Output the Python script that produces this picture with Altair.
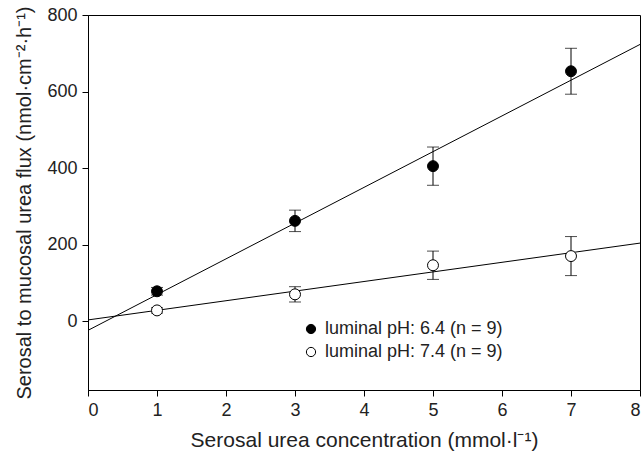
import altair as alt
import pandas as pd

# Data
conc = [1, 3, 5, 7]
flux_ph64 = [78, 262, 405, 653]
err_ph64 = [10, 28, 50, 60]
flux_ph74 = [28, 70, 146, 170]
err_ph74 = [7, 20, 37, 51]
series_names = ["luminal pH: 6.4 (n = 9)", "luminal pH: 7.4 (n = 9)"]

x_ticks = [0, 1, 2, 3, 4, 5, 6, 7, 8]
y_ticks = [0, 200, 400, 600, 800]

rows = []
for name, ys, es in [(series_names[0], flux_ph64, err_ph64), (series_names[1], flux_ph74, err_ph74)]:
    for x, y, e in zip(conc, ys, es):
        rows.append({"series": name, "x": x, "y": y, "lo": y - e, "hi": y + e})
df = pd.DataFrame(rows)

FONT = "Liberation Sans"
xscale = alt.Scale(domain=[0, 8], nice=False, zero=False)
yscale = alt.Scale(domain=[-180, 800], nice=False, zero=False)

xaxis = alt.Axis(values=x_ticks, title="Serosal urea concentration (mmol·l⁻¹)", format="d",
                 titleFontSize=21)
yaxis = alt.Axis(values=y_ticks, title="Serosal to mucosal urea flux (nmol·cm⁻²·h⁻¹)", format="d",
                 titleFontSize=20)

base = alt.Chart(df)

lines = base.transform_regression("x", "y", groupby=["series"], extent=[0, 8]).mark_line(
    color="black", strokeWidth=1, clip=True
).encode(
    x=alt.X("x:Q", scale=xscale, axis=xaxis),
    y=alt.Y("y:Q", scale=yscale, axis=yaxis),
    detail="series:N",
)

rules = base.mark_rule(color="black", strokeWidth=1).encode(
    x=alt.X("x:Q", scale=xscale),
    y=alt.Y("lo:Q", scale=yscale),
    y2="hi:Q",
)
caps_hi = base.mark_tick(orient="horizontal", size=12, thickness=1, color="black").encode(
    x=alt.X("x:Q", scale=xscale),
    y=alt.Y("hi:Q", scale=yscale),
)
caps_lo = base.mark_tick(orient="horizontal", size=12, thickness=1, color="black").encode(
    x=alt.X("x:Q", scale=xscale),
    y=alt.Y("lo:Q", scale=yscale),
)

points = base.mark_point(shape="circle", size=120, stroke="black", strokeWidth=1, opacity=1, filled=False).encode(
    x=alt.X("x:Q", scale=xscale),
    y=alt.Y("y:Q", scale=yscale),
    fill=alt.Fill(
        "series:N",
        scale=alt.Scale(domain=series_names, range=["black", "white"]),
        legend=alt.Legend(
            orient="none",
            legendX=214,
            legendY=305,
            title=None,
            labelFont=FONT,
            labelFontSize=18,
            labelColor="#222222",
            labelLimit=400,
            symbolType="circle",
            symbolSize=85,
            symbolStrokeColor="black",
            symbolStrokeWidth=1,
            rowPadding=5,
            labelOffset=5,
        ),
    ),
)

chart = alt.layer(lines, rules, caps_hi, caps_lo, points).properties(
    width=552,
    height=375,
    autosize=alt.AutoSizeParams(type="none"),
    padding={"left": 88, "top": 15, "right": 1, "bottom": 76},
).configure_view(
    stroke="black", strokeWidth=1
).configure_axis(
    grid=False,
    domainColor="black",
    tickColor="black",
    tickSize=6,
    labelFont=FONT,
    labelFontSize=18,
    labelColor="#222222",
    titleFont=FONT,
    titleFontWeight="normal",
    titleColor="#222222",
    labelPadding=5,
).configure_axisX(titlePadding=10).configure_axisY(titlePadding=12)

chart.save("out.html", embed_options={"renderer": "svg", "actions": False})
